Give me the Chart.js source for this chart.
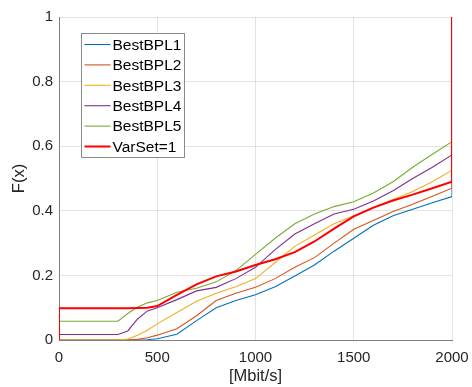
<!DOCTYPE html>
<html>
<head>
<meta charset="utf-8">
<script src="https://cdn.jsdelivr.net/npm/chart.js@4/dist/chart.umd.min.js"></script>
<style>
  html, body { margin: 0; padding: 0; background: #fff; }
  #wrap { width: 472px; height: 387px; }
</style>
</head>
<body>
<div id="wrap"><canvas id="cdf" width="472" height="387"></canvas></div>
<script>
// throughput grid [Mbit/s]; 0 and 2000 repeat for the vertical steps
const mbits = [0, 0, 100, 200, 300, 350, 400, 450, 500, 600, 700, 800, 900, 1000,
  1100, 1200, 1300, 1400, 1500, 1600, 1700, 1800, 1900, 2000, 2000];

const bestBPL1 = [0, 0, 0, 0, 0, 0, 0, 0.001, 0.004, 0.018, 0.06, 0.1, 0.122, 0.14,
  0.165, 0.198, 0.232, 0.275, 0.315, 0.355, 0.385, 0.405, 0.425, 0.444, 1];
const bestBPL2 = [0, 0, 0, 0, 0, 0, 0.002, 0.007, 0.015, 0.035, 0.075, 0.122, 0.145, 0.163,
  0.19, 0.225, 0.255, 0.3, 0.343, 0.37, 0.398, 0.42, 0.445, 0.47, 1];
const bestBPL3 = [0, 0, 0, 0, 0, 0.003, 0.015, 0.03, 0.05, 0.085, 0.12, 0.145, 0.165, 0.19,
  0.24, 0.29, 0.325, 0.36, 0.385, 0.41, 0.435, 0.46, 0.49, 0.526, 1];
const bestBPL4 = [0, 0.017, 0.017, 0.017, 0.017, 0.028, 0.065, 0.09, 0.1, 0.125, 0.152, 0.163, 0.19, 0.225,
  0.28, 0.328, 0.36, 0.39, 0.405, 0.43, 0.462, 0.5, 0.535, 0.573, 1];
const bestBPL5 = [0, 0.058, 0.058, 0.058, 0.058, 0.082, 0.102, 0.115, 0.122, 0.148, 0.16, 0.18, 0.215, 0.265,
  0.315, 0.36, 0.39, 0.413, 0.428, 0.455, 0.49, 0.535, 0.575, 0.614, 1];
const varSet1 = [0, 0.098, 0.098, 0.098, 0.098, 0.098, 0.099, 0.1, 0.105, 0.14, 0.172, 0.197, 0.212, 0.232,
  0.25, 0.272, 0.305, 0.345, 0.383, 0.41, 0.432, 0.45, 0.47, 0.49, 1];

const seriesNames = ['BestBPL1', 'BestBPL2', 'BestBPL3', 'BestBPL4', 'BestBPL5', 'VarSet=1'];
const seriesValues = [bestBPL1, bestBPL2, bestBPL3, bestBPL4, bestBPL5, varSet1];
const seriesColors = ['#0072BD', '#D95319', '#EDB120', '#7E2F8E', '#77AC30', '#FF0000'];
const seriesWidths = [1.1, 1.1, 1.1, 1.1, 1.1, 2];

const xTicks = [0, 500, 1000, 1500, 2000];
const yTicks = [0, 0.2, 0.4, 0.6, 0.8, 1];

const FONT = 'Liberation Sans, Arial, Helvetica, sans-serif';
const TEXT = '#262626';
const AXIS = '#808080';
const GRID = 'rgba(38,38,38,0.13)';

const datasets = seriesValues.map((vals, i) => ({
  label: seriesNames[i],
  data: vals.map((v, k) => ({ x: mbits[k], y: v })),
  borderColor: seriesColors[i],
  backgroundColor: seriesColors[i],
  borderWidth: seriesWidths[i],
  pointRadius: 0,
  tension: 0,
  fill: false,
  // later series paint over earlier ones
  order: seriesNames.length - i
}));

// legend box drawn inside the axes, top left
const boxLegend = {
  id: 'boxLegend',
  afterDatasetsDraw(chart) {
    const ctx = chart.ctx;
    const area = chart.chartArea;
    const x0 = area.left + 22.5, y0 = area.top + 16.5, w = 103, h = 124;
    ctx.save();
    ctx.fillStyle = '#fff';
    ctx.fillRect(x0, y0, w, h);
    ctx.strokeStyle = '#8a8a8a';
    ctx.lineWidth = 1;
    ctx.strokeRect(x0, y0, w, h);
    ctx.font = '15.5px ' + FONT;
    ctx.textBaseline = 'middle';
    ctx.textAlign = 'left';
    chart.data.datasets.forEach((ds, i) => {
      const y = y0 + 11 + i * 20.4;
      ctx.strokeStyle = ds.borderColor;
      ctx.lineWidth = ds.borderWidth;
      ctx.beginPath();
      ctx.moveTo(x0 + 3, y);
      ctx.lineTo(x0 + 29, y);
      ctx.stroke();
      ctx.fillStyle = '#000';
      ctx.fillText(ds.label, x0 + 31, y + 1);
    });
    ctx.restore();
  }
};

new Chart(document.getElementById('cdf'), {
  type: 'line',
  data: { datasets },
  plugins: [boxLegend],
  options: {
    responsive: false,
    animation: false,
    layout: { padding: { left: 0, top: 17, right: 20, bottom: 0 } },
    plugins: {
      legend: { display: false },
      tooltip: { enabled: false }
    },
    scales: {
      x: {
        type: 'linear',
        min: 0,
        max: 2000,
        afterBuildTicks: (s) => { s.ticks = xTicks.map(v => ({ value: v })); },
        afterFit: (s) => {
          s.height = 47;
          // outer padding already leaves room for the end labels
          s.paddingLeft = 0;
          s.paddingRight = 0;
        },
        ticks: {
          color: TEXT, font: { family: FONT, size: 15 }, padding: 9, maxRotation: 0,
          callback: v => String(v)
        },
        grid: { color: GRID, drawTicks: false },
        border: { color: AXIS, width: 1 },
        title: {
          display: true, text: '[Mbit/s]', color: TEXT,
          font: { family: FONT, size: 16.5 }, padding: { top: 0, bottom: 1 }
        }
      },
      y: {
        type: 'linear',
        min: 0,
        max: 1,
        afterBuildTicks: (s) => { s.ticks = yTicks.map(v => ({ value: v })); },
        afterFit: (s) => { s.width = 59; s.paddingTop = 0; s.paddingBottom = 0; },
        ticks: { color: TEXT, font: { family: FONT, size: 15 }, padding: 6, callback: v => String(v) },
        grid: { color: GRID, drawTicks: false },
        border: { color: AXIS, width: 1 },
        title: {
          display: true, text: 'F(x)', color: TEXT,
          font: { family: FONT, size: 16.5 }, padding: { top: 10, bottom: 0 }
        }
      }
    }
  }
});
</script>
</body>
</html>
